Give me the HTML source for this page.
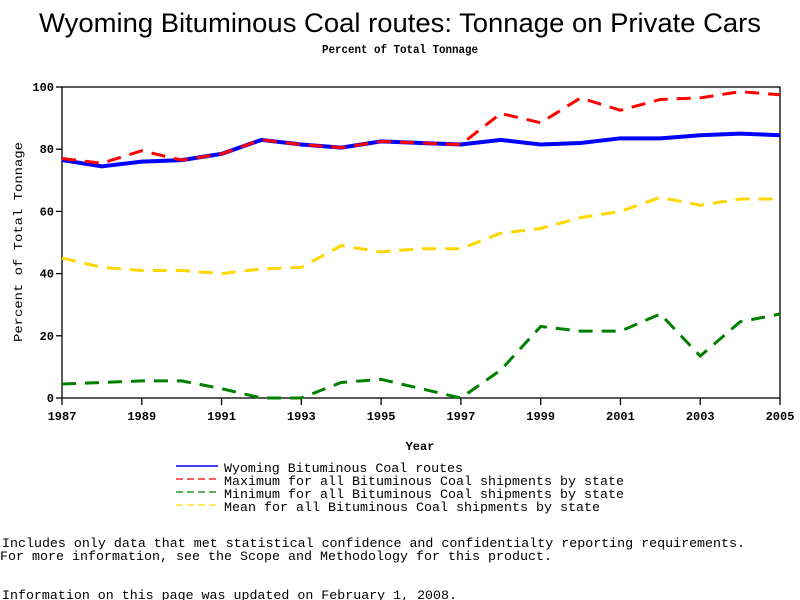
<!DOCTYPE html>
<html><head><meta charset="utf-8"><style>
body{margin:0;background:#fff;}
svg{display:block;}
text{font-family:"Liberation Mono",monospace;fill:#000;}
</style></head><body>
<svg id="chart" width="800" height="600" viewBox="0 0 800 600">
<text x="400" y="32" text-anchor="middle" style="font-family:'Liberation Sans',sans-serif;font-size:27px" textLength="722" lengthAdjust="spacingAndGlyphs">Wyoming Bituminous Coal routes: Tonnage on Private Cars</text>
<text x="400" y="53" text-anchor="middle" style="font-size:12px;font-weight:bold" textLength="156" lengthAdjust="spacingAndGlyphs">Percent of Total Tonnage</text>
<g id="axes"></g>
<g id="series"></g>
<text x="420" y="450" text-anchor="middle" style="font-size:12px;font-weight:bold">Year</text>
<text transform="translate(22,242) rotate(-90)" text-anchor="middle" style="font-size:12px" textLength="200" lengthAdjust="spacingAndGlyphs">Percent of Total Tonnage</text>
<g>
<line x1="176" y1="466" x2="218" y2="466" stroke="#0000ff" stroke-width="1.5"/>
<text x="224" y="472" style="font-size:13px" textLength="239" lengthAdjust="spacingAndGlyphs">Wyoming Bituminous Coal routes</text>
<line x1="176" y1="479" x2="218" y2="479" stroke="#ff0000" stroke-width="1.2" stroke-dasharray="7,4"/>
<text x="224" y="485" style="font-size:13px" textLength="400" lengthAdjust="spacingAndGlyphs">Maximum for all Bituminous Coal shipments by state</text>
<line x1="176" y1="492" x2="218" y2="492" stroke="#008000" stroke-width="1.2" stroke-dasharray="7,4"/>
<text x="224" y="498" style="font-size:13px" textLength="400" lengthAdjust="spacingAndGlyphs">Minimum for all Bituminous Coal shipments by state</text>
<line x1="176" y1="505" x2="218" y2="505" stroke="#ffd700" stroke-width="1.2" stroke-dasharray="7,4"/>
<text x="224" y="511" style="font-size:13px" textLength="376" lengthAdjust="spacingAndGlyphs">Mean for all Bituminous Coal shipments by state</text>
</g>
<text x="2" y="547" style="font-size:13px" textLength="743" lengthAdjust="spacingAndGlyphs">Includes only data that met statistical confidence and confidentialty reporting requirements.</text>
<text x="0" y="560" style="font-size:13px" textLength="552" lengthAdjust="spacingAndGlyphs">For more information, see the Scope and Methodology for this product.</text>
<text x="2" y="599" style="font-size:13px" textLength="455" lengthAdjust="spacingAndGlyphs">Information on this page was updated on February 1, 2008.</text>
</svg>
<script>
const years=[1987,1988,1989,1990,1991,1992,1993,1994,1995,1996,1997,1998,1999,2000,2001,2002,2003,2004,2005];
const wyoming=[76.5,74.5,76,76.5,78.5,83,81.5,80.5,82.5,82,81.5,83,81.5,82,83.5,83.5,84.5,85,84.5];
const maximum=[77,75.5,79.5,76.5,78.5,83,81.5,80.5,82.5,82,81.5,91.5,88.5,96.5,92.5,96,96.5,98.5,97.5];
const minimum=[4.5,5,5.5,5.5,3,0,0,5,6,3,0,9,23,21.5,21.5,27,13.5,24.5,27];
const mean=[45,42,41,41,40,41.5,42,49,47,48,48,53,54.5,58,60,64.5,62,64,64];
const yTicks=[0,20,40,60,80,100];
const xTickLabels=[1987,1989,1991,1993,1995,1997,1999,2001,2003,2005];
const X0=62,X1=780,Y0=398,Y1=87;
const xs=v=>X0+(v-1987)/(2005-1987)*(X1-X0);
const ys=v=>Y0-(v/100)*(Y0-Y1);
const NS="http://www.w3.org/2000/svg";
const axes=document.getElementById('axes');
const series=document.getElementById('series');
function mk(tag,attrs,parent){const e=document.createElementNS(NS,tag);for(const k in attrs)e.setAttribute(k,attrs[k]);parent.appendChild(e);return e;}
const frame=mk('rect',{x:X0,y:Y1,width:X1-X0,height:Y0-Y1,fill:'none',stroke:'#000','stroke-width':1.3},axes);


yTicks.forEach(t=>{
 const l=mk('line',{x1:X0-6,x2:X0,y1:ys(t),y2:ys(t),stroke:'#000','stroke-width':1.3},axes);
 
 
 const tx=mk('text',{x:X0-8,y:ys(t)+4,'text-anchor':'end',style:'font-size:12px;font-weight:bold'},axes);
 tx.textContent=t;
 
 
});
xTickLabels.forEach(t=>{
 const l=mk('line',{x1:xs(t),x2:xs(t),y1:Y0,y2:Y0+7,stroke:'#000','stroke-width':1.3},axes);
 
 
 const tx=mk('text',{x:xs(t),y:Y0+22,'text-anchor':'middle',style:'font-size:12px;font-weight:bold'},axes);
 tx.textContent=t;
 
 
});
function line(vals,color,dash,w,name){
 const p=mk('polyline',{points:vals.map((v,i)=>xs(years[i])+','+ys(v)).join(' '),fill:'none',stroke:color,'stroke-width':w,'stroke-dasharray':dash},series);
 
 
}
line(mean,'#ffd700','14,9',3,'mean-line');
line(minimum,'#008000','14,9',3,'minimum-line');
line(wyoming,'#0000ff','none',4,'wyoming-line');
line(maximum,'#ff0000','14,9',3,'maximum-line');
</script>
</body></html>
